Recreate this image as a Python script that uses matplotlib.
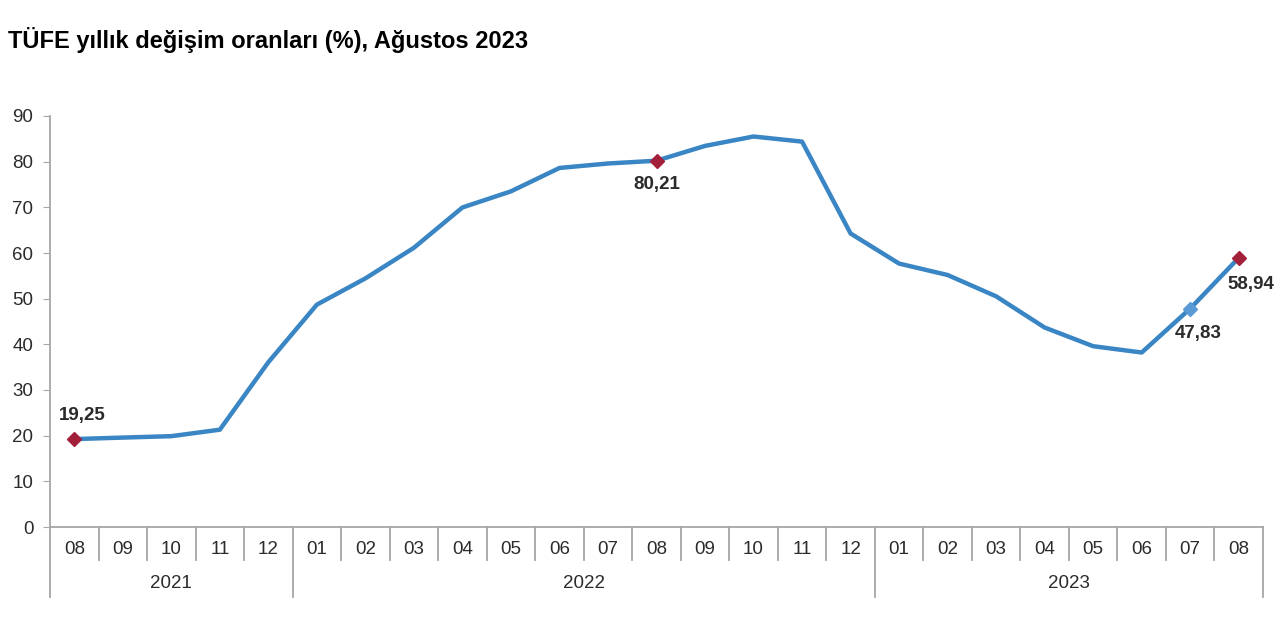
import matplotlib.pyplot as plt
import matplotlib.transforms as mtransforms

plt.rcParams['font.family'] = ['Liberation Sans', 'DejaVu Sans']

# Données TÜFE (yıllık %), Ağustos 2021 - Ağustos 2023
months = ['08', '09', '10', '11', '12',
          '01', '02', '03', '04', '05', '06', '07', '08', '09', '10', '11', '12',
          '01', '02', '03', '04', '05', '06', '07', '08']
years = ['2021', '2022', '2023']
year_counts = [5, 12, 8]
values = [19.25, 19.58, 19.89, 21.31, 36.08,
          48.69, 54.44, 61.14, 69.97, 73.50, 78.62, 79.60, 80.21, 83.45, 85.51, 84.39, 64.27,
          57.68, 55.18, 50.51, 43.68, 39.59, 38.21, 47.83, 58.94]
labelled = [0, 12, 23, 24]
label_text = ['19,25', '80,21', '47,83', '58,94']

line_color = '#3A86C4'
red = '#A3203A'
gray = '#A6A6A6'
txt = '#2B2B2B'

fig = plt.figure(figsize=(12.8, 6.4), dpi=100)
ax = fig.add_axes([50 / 1280, 1 - 527 / 640, 1213 / 1280, 411 / 640])

x = list(range(len(values)))
ax.plot(x, values, color=line_color, linewidth=3.2, solid_capstyle='round', zorder=3)

# Marqueurs
for i in labelled:
    c = '#5B9BD5' if i == 23 else red
    ax.plot(i, values[i], marker='D', markersize=7.5, color=c,
            markeredgecolor=c, zorder=4, linestyle='none')

# Étiquettes de valeurs
offsets = {0: (6, 17), 12: (0, -17), 23: (6, -18), 24: (9, -19)}
for i, t in zip(labelled, label_text):
    dx, dy = offsets[i]
    ax.annotate(t, (i, values[i]), xytext=(dx, dy), textcoords='offset points',
                ha='center', va='center', fontsize=13.5, fontweight='bold',
                color=txt, zorder=5)

ax.set_xlim(-0.5, len(values) - 0.5)
ax.set_ylim(0, 90)
ax.set_yticks(range(0, 91, 10))
ax.tick_params(axis='y', labelsize=13.5, colors=txt, length=5,
               color=gray, pad=7)
ax.set_xticks([])
for s in ['top', 'right']:
    ax.spines[s].set_visible(False)
ax.spines['left'].set_color(gray)
ax.spines['bottom'].set_color(gray)
ax.spines['left'].set_linewidth(1.3)
ax.spines['bottom'].set_linewidth(1.3)

# Axe catégoriel à deux niveaux (mois / année)
trans = mtransforms.blended_transform_factory(ax.transData, ax.transAxes)
month_bottom = -(560 - 527) / 411
year_bottom = -(597 - 527) / 411
for i, m in enumerate(months):
    ax.text(i, -(549 - 527) / 411, m, transform=trans, ha='center', va='center',
            fontsize=13.5, color=txt)
boundaries = [-0.5]
for n in year_counts:
    boundaries.append(boundaries[-1] + n)
for b in range(len(months) + 1):
    xb = b - 0.5
    low = year_bottom if xb in boundaries else month_bottom
    ax.plot([xb, xb], [0, low], transform=trans, color=gray, linewidth=1.3,
            clip_on=False)
for k, yr in enumerate(years):
    mid = (boundaries[k] + boundaries[k + 1]) / 2
    ax.text(mid, -(583 - 527) / 411, yr, transform=trans, ha='center',
            va='center', fontsize=13.5, color=txt)

fig.text(8 / 1280, 1 - 40 / 640, 'TÜFE yıllık değişim oranları (%), Ağustos 2023',
         ha='left', va='center', fontsize=17, fontweight='bold', color='black')

fig.savefig('out.png', dpi=100, facecolor='white')
